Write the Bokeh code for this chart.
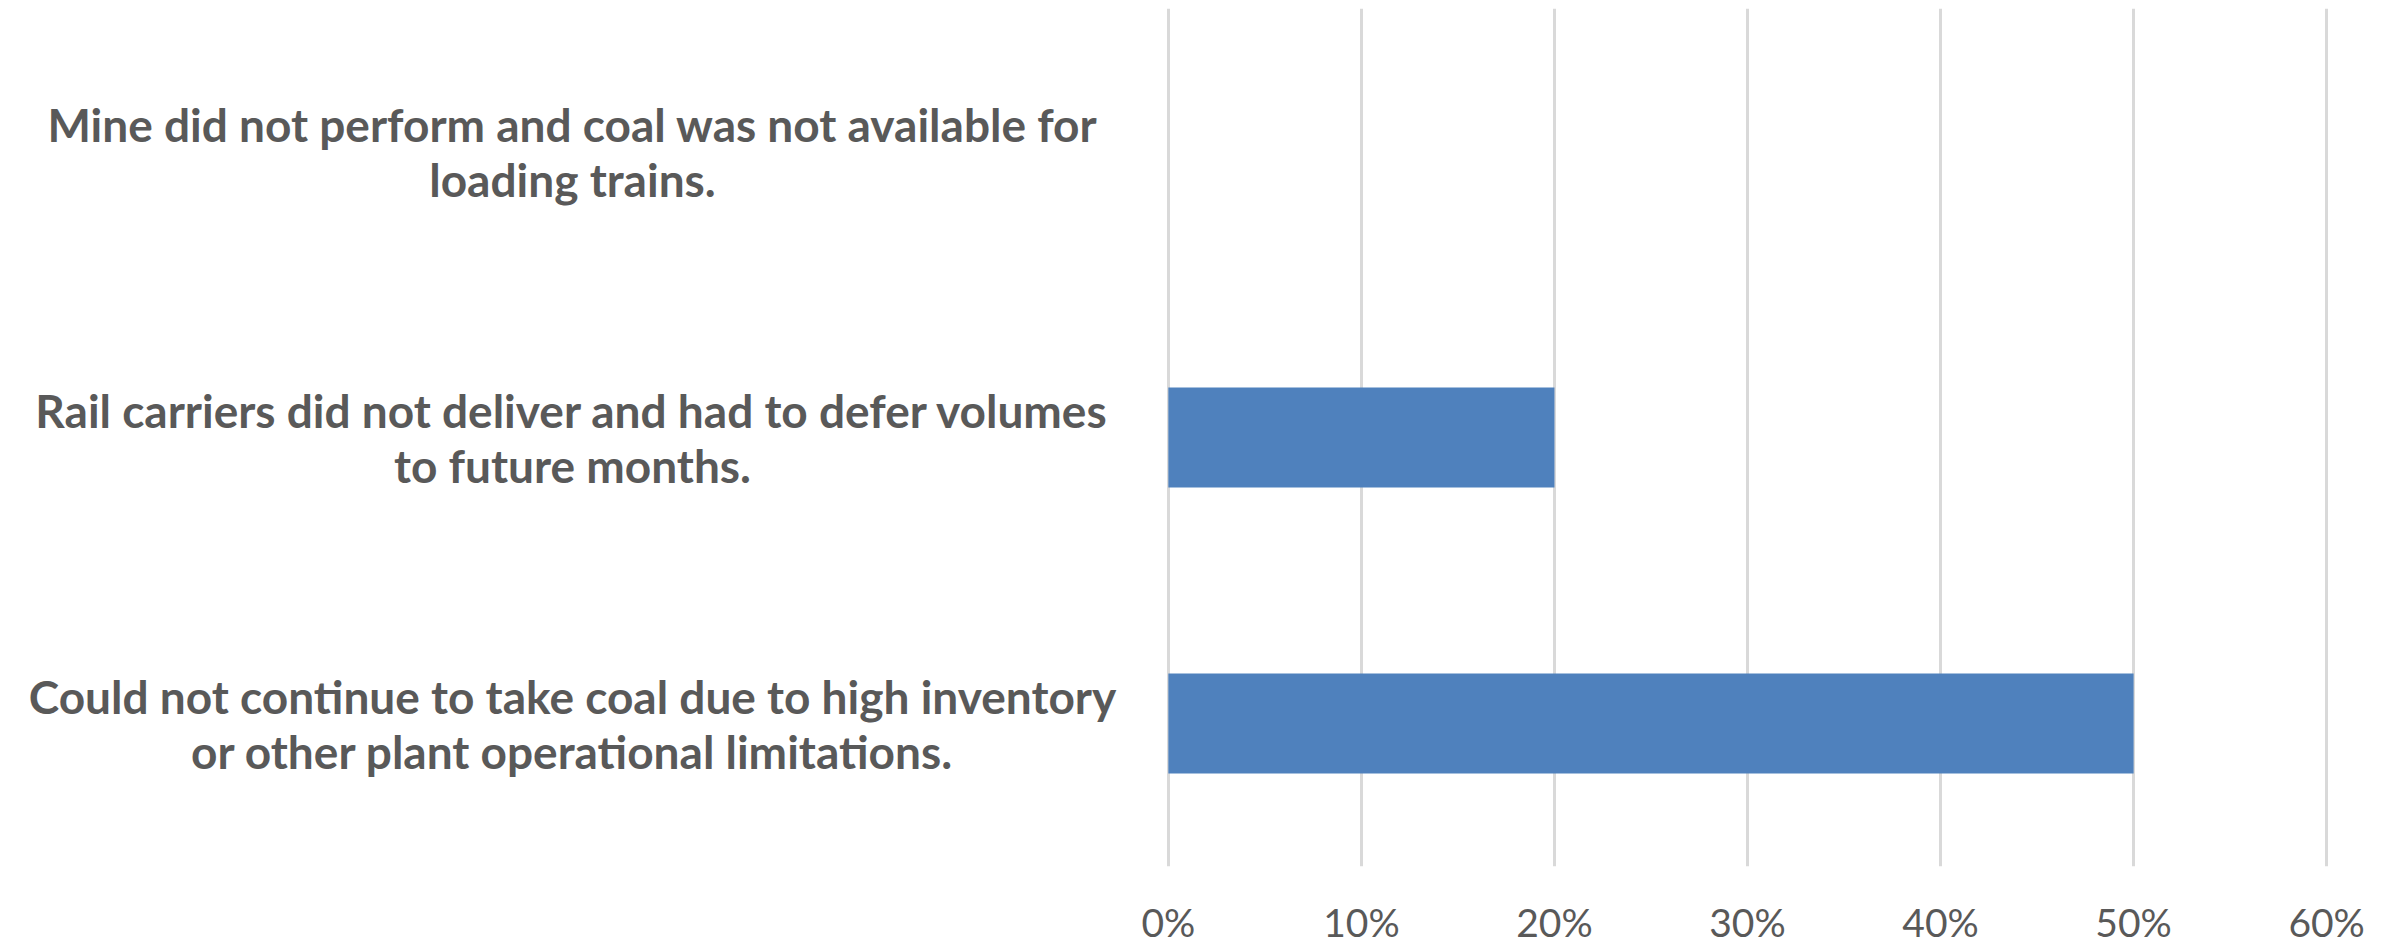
from bokeh.plotting import figure
from bokeh.models import FactorRange, Range1d, FixedTicker, NumeralTickFormatter, ColumnDataSource
from bokeh.layouts import row
from bokeh.core.properties import value
from bokeh.embed import file_html
from bokeh.resources import INLINE

# Data (top to bottom as shown)
categories = [
    "Mine did not perform and coal was not available for\nloading trains.",
    "Rail carriers did not deliver and had to defer volumes\nto future months.",
    "Could not continue to take coal due to high inventory\nor other plant operational limitations.",
]
shares = [0.0, 0.20, 0.50]
tick_values = [0.0, 0.1, 0.2, 0.3, 0.4, 0.5, 0.6]

BAR = "#4F81BD"
GRID = "#D9D9D9"
TXT = "#595959"
FONT = "Lato"

H = 947
TOP = 8
BOTTOM = 79
LEFT_W = 1125

y_range = FactorRange(factors=list(reversed(categories)), range_padding=0)

src = ColumnDataSource(dict(cat=categories, share=shares))

# Left panel: category labels
lp = figure(width=LEFT_W, height=H, y_range=y_range, x_range=Range1d(0, LEFT_W),
            output_backend="svg", toolbar_location=None,
            min_border_left=0, min_border_right=0, min_border_top=TOP, min_border_bottom=BOTTOM)
lp.axis.visible = False
lp.grid.visible = False
lp.outline_line_color = None
lp.text(x=572, y="cat", text="cat", source=src, text_align="center", text_baseline="middle",
        text_font=value(FONT), text_font_style="bold", text_font_size="46px",
        text_color=TXT, text_line_height=1.0)

# Right panel: bars
p = figure(width=2392 - LEFT_W, height=H, y_range=y_range, x_range=Range1d(-0.002, 0.602),
           output_backend="svg", toolbar_location=None,
           min_border_left=39, min_border_right=62, min_border_top=TOP, min_border_bottom=BOTTOM)
p.hbar(y="cat", right="share", left=0, height=0.35, source=src, fill_color=BAR, line_color=None)

p.yaxis.visible = False
p.ygrid.visible = False
p.outline_line_color = None
p.xgrid.ticker = FixedTicker(ticks=tick_values)
p.xgrid.grid_line_color = GRID
p.xgrid.grid_line_width = 3
p.xaxis.ticker = FixedTicker(ticks=tick_values)
p.xaxis.formatter = NumeralTickFormatter(format="0%")
p.xaxis.axis_line_color = None
p.xaxis.major_tick_line_color = None
p.xaxis.minor_tick_line_color = None
p.xaxis.major_tick_in = 0
p.xaxis.major_tick_out = 0
p.xaxis.major_label_standoff = 32
p.xaxis.major_label_text_line_height = 0.8
p.xaxis.major_label_text_font = FONT
p.xaxis.major_label_text_font_size = "39px"
p.xaxis.major_label_text_color = TXT

layout = row(lp, p, spacing=0)
open("out.html", "w").write(file_html(layout, INLINE))
